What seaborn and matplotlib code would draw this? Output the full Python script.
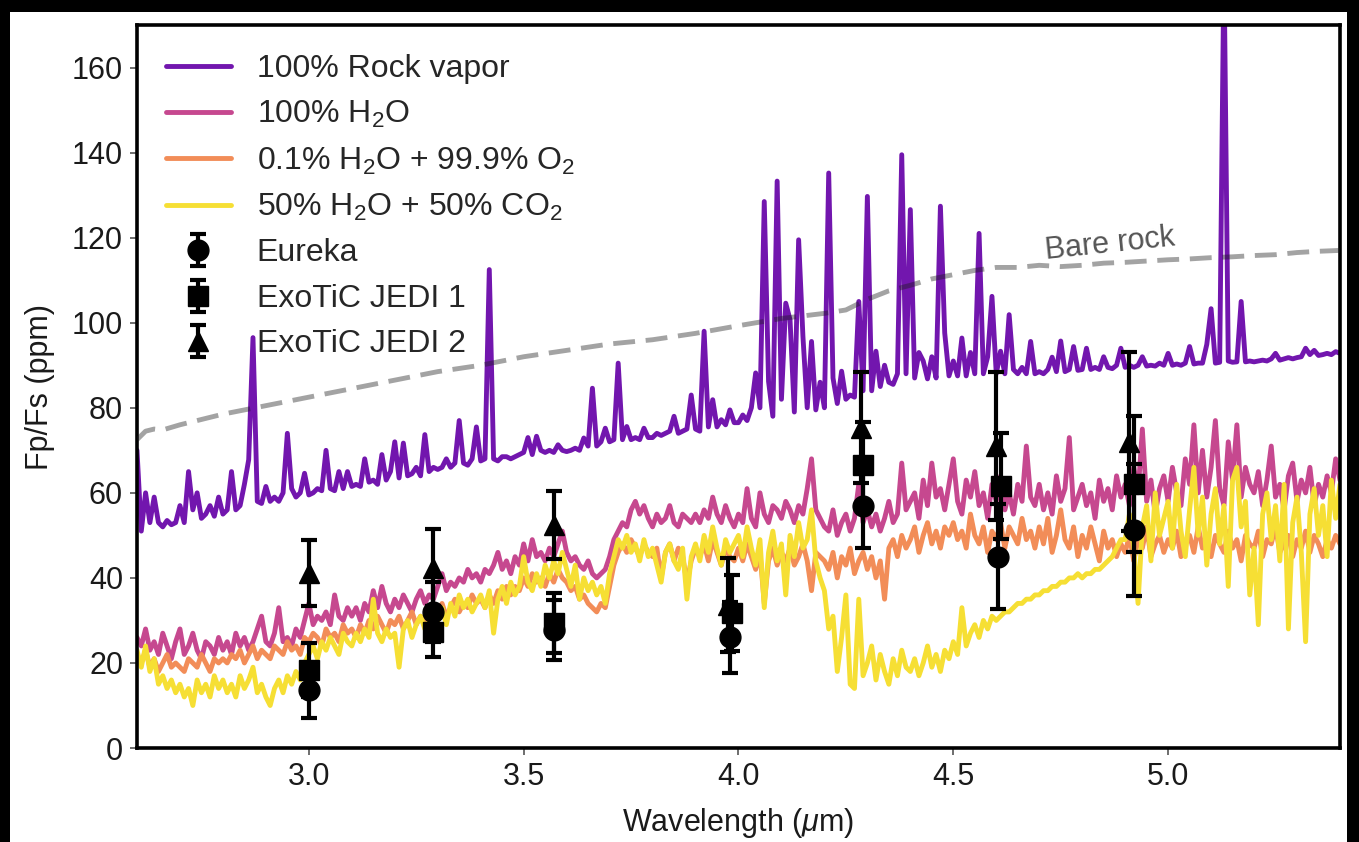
import matplotlib
matplotlib.use("Agg")
import matplotlib.pyplot as plt
from matplotlib.patches import Rectangle
import numpy as np
import pandas as pd
import seaborn as sns

# model wavelength grid (um), one value every 0.01 um from 2.60 to 5.40
wl = np.round(np.arange(260, 541) / 100, 2)

# model spectra, Fp/Fs in ppm
rock_vapor = [
    70, 51, 60, 53, 59, 53, 52, 53.5, 52.5, 53,
    57, 53, 65, 56, 60, 54, 55, 57, 54.5, 59,
    55, 56, 65, 56, 57, 62, 67.8, 96.5, 58, 57.5,
    61.5, 58, 59, 58, 60, 74, 61, 59, 60, 64.6,
    59.5, 60, 61, 60.5, 70, 61, 60.5, 65, 61, 65,
    61.5, 62, 61.5, 68, 62.5, 63, 62, 69, 63, 65,
    72, 63.5, 71.7, 64, 64.5, 66, 64, 73.7, 65, 66,
    65.5, 66, 68, 66, 67, 77, 67, 66.5, 68, 75.5,
    67.5, 68, 112.5, 68, 67.5, 68.5, 68.5, 68, 68.5, 69,
    69.5, 73, 69, 73.3, 70, 69.5, 70, 69.5, 71.3, 70,
    69.7, 70, 70.5, 70, 72.9, 71, 84.6, 71, 72, 75.2,
    72, 72.5, 90.5, 72.5, 75.6, 72.5, 73, 72.5, 75.2, 73,
    73, 74, 73.5, 74, 74.5, 78, 74, 74.5, 75, 83,
    75, 74.5, 98, 75.5, 81.9, 75.5, 77.2, 76, 79.5, 76.5,
    76.5, 78.3, 77, 80, 88.2, 80, 128.5, 86.2, 78, 133.3,
    82, 104.6, 100.7, 79, 119.5, 96.8, 80, 95.6, 79.5, 86,
    80, 135.2, 87, 81, 88.6, 82, 83, 82.5, 105, 84,
    129.7, 84, 93.3, 85, 90, 86, 85.5, 88, 139.5, 88,
    126.6, 87, 93, 91, 86.8, 92, 87, 127.4, 97.6, 87.5,
    91, 87.5, 96.4, 87.5, 93, 88, 121, 88, 92, 106.2,
    88, 93.3, 88, 101.9, 89, 88, 89.5, 88, 95.6, 88,
    88.5, 88, 89, 91.9, 88.5, 95.7, 88.5, 89, 94.4, 88.8,
    89, 94, 89, 89.5, 89, 92, 89.5, 89.2, 90, 94,
    89.5, 90, 89.5, 90, 92, 89.8, 90, 89.8, 90.5, 90,
    92.8, 90, 90.3, 90, 90.5, 94.4, 90.3, 90.5, 90.5, 94.9,
    103.3, 90.5, 90.7, 185, 91, 90.7, 90.8, 105, 90.8, 91,
    90.8, 91, 91.2, 91, 91.5, 92.8, 91.2, 91.5, 91.8, 91.5,
    91.8, 92, 94, 92.5, 93.5, 92.3, 92.5, 92.8, 92.5, 93.2,
    92.8,
]

h2o_100 = [
    26, 24, 28, 23, 25, 22, 27, 24, 21, 25,
    28, 22, 24, 27, 23, 21, 25, 24, 22, 26,
    23, 25, 22, 27, 24, 26, 23, 25, 28, 31,
    25, 24, 27, 33, 25, 26, 24, 28, 26, 30,
    34, 29, 31, 30, 32, 29, 36, 31, 30, 33,
    31, 33, 30, 34, 32, 37, 33, 38, 34, 32,
    35, 33, 36, 34, 32, 35, 37, 34, 36, 35,
    38, 41, 37, 39, 38, 40, 39, 42, 40, 41,
    39, 42, 41, 43, 46, 42, 44, 41, 45, 43,
    48, 44, 49, 45, 46, 44, 47, 45, 48, 51,
    46, 44, 45, 43, 42, 44, 41, 40, 41, 42,
    45, 49, 51, 53, 52, 56, 58, 55, 57, 54,
    52, 55, 53, 54, 57, 53, 52, 55, 54, 53,
    55, 53, 56, 54, 59, 55, 53, 57, 54, 52,
    55, 53, 61, 54, 52, 60, 55, 53, 57, 56,
    54, 58, 56, 53, 57, 55, 61, 68, 56, 54,
    52, 51, 56, 50, 53, 55, 51, 54, 62, 53,
    56, 52, 55, 51, 54, 58, 53, 55, 67, 56,
    58, 60, 54, 63, 57, 67, 59, 61, 56, 62,
    68, 58, 55, 63, 59, 65, 57, 60, 54, 62,
    58, 64, 56, 60, 55, 62, 58, 71, 59, 57,
    62, 56, 60, 55, 64, 58, 61, 73, 56, 59,
    62, 57, 60, 54, 63, 58, 61, 56, 64, 59,
    62, 57, 66, 60, 75, 58, 63, 55, 61, 64,
    58, 66, 60, 57, 68, 62, 76, 60, 70, 59,
    66, 77, 61, 57, 72, 63, 76, 59, 66, 62,
    60, 65, 57, 63, 71, 59, 62, 56, 64, 67,
    58, 63, 60, 66, 57, 62, 59, 64, 60, 68,
    63,
]

h2o_o2 = [
    22, 20, 23, 19, 21, 18, 20, 22, 19, 20,
    19, 18, 21, 20, 19, 22, 20, 18, 21, 20,
    21, 20, 22, 21, 23, 20, 22, 24, 21, 23,
    22, 21, 24, 23, 22, 25, 23, 24, 22, 26,
    25, 27, 26, 24, 28, 26, 27, 25, 29, 27,
    28, 26, 29, 27, 30, 28, 31, 29, 27, 30,
    29, 31, 28, 30, 32, 29, 31, 30, 33, 31,
    32, 34, 31, 33, 35, 32, 34, 33, 36, 34,
    35, 33, 36, 34, 37, 35, 38, 36, 38, 37,
    40, 38, 41, 39, 40, 38, 41, 39, 42, 40,
    39, 37, 38, 35, 36, 34, 33, 32, 34, 33,
    38, 43, 46, 48, 46, 49, 47, 45, 48, 46,
    45, 47, 40, 46, 48, 44, 47, 45, 39, 44,
    47, 45, 48, 44, 49, 46, 43, 47, 45, 44,
    47, 44, 48, 45, 42, 46, 34, 44, 47, 43,
    46, 44, 47, 43, 45, 48, 44, 37, 46, 45,
    44, 42, 46, 40, 45, 43, 47, 41, 44, 46,
    42, 45, 40, 44, 35, 47, 49, 45, 50, 47,
    49, 52, 46, 50, 53, 48, 51, 47, 52, 50,
    53, 49, 51, 47, 55, 50, 48, 52, 46, 51,
    49, 53, 47, 52, 50, 48, 54, 49, 51, 47,
    52, 48, 54, 46, 50, 56, 49, 47, 52, 45,
    50, 47, 52, 48, 44, 51, 47, 49, 45, 48,
    46, 50, 44, 49, 47, 52, 45, 48, 50, 46,
    49, 47, 51, 45, 48, 50, 46, 52, 47, 49,
    45, 50, 48, 46, 51, 47, 49, 44, 50, 48,
    47, 51, 45, 49, 48, 52, 46, 48, 50, 45,
    49, 47, 51, 46, 50, 48, 45, 49, 47, 50,
    48,
]

h2o_co2 = [
    23, 19, 24, 18, 21, 15, 17, 14, 16, 13,
    15, 12, 14, 10, 16, 13, 15, 12, 17, 14,
    16, 13, 15, 12, 17, 14, 16, 19, 13, 15,
    12, 10, 14, 16, 13, 17, 15, 18, 16, 20,
    22, 24, 21, 25, 23, 26, 24, 22, 27, 25,
    24, 27, 25, 28, 26, 35, 27, 25, 28, 26,
    27, 19, 28, 30, 26, 29, 31, 28, 30, 32,
    30, 33, 29, 34, 31, 36, 33, 35, 32, 34,
    36, 33, 37, 27, 35, 38, 34, 39, 36, 38,
    45, 39, 37, 41, 38, 43, 40, 44, 41, 46,
    42, 38, 43, 35, 40, 37, 39, 36, 38, 34,
    41, 45, 49, 47, 50, 46, 48, 44, 49, 45,
    47, 43, 39, 46, 48, 44, 42, 47, 35, 45,
    48, 44, 50, 46, 52, 47, 43, 49, 46, 48,
    50, 45, 52, 47, 43, 49, 33, 46, 51, 44,
    48, 36, 50, 45, 53, 47, 49, 56, 44, 40,
    37, 28, 31, 18, 26, 36, 15, 14, 35, 17,
    20, 24, 16, 22, 18, 15, 21, 17, 23, 19,
    18, 21, 17, 20, 24, 19, 22, 18, 23, 21,
    25, 22, 33, 24, 27, 29, 26, 30, 28, 31,
    30, 31, 32, 32, 33, 34, 34, 35, 35, 36,
    36, 37, 37, 38, 38, 39, 39, 40, 40, 41,
    40, 41, 41, 42, 42, 43, 44, 45, 47, 49,
    49, 55, 47, 34, 52, 57, 44, 60, 50, 54,
    58, 47, 62, 51, 45, 56, 66, 50, 59, 43,
    55, 61, 48, 57, 38, 63, 66, 52, 58, 36,
    47, 29, 55, 60, 49, 57, 44, 62, 28, 53,
    59, 46, 25, 55, 61, 50, 57, 45, 63, 54,
    62,
]

# bare rock (blackbody-like) curve
bare_wl = [2.60, 2.62, 2.64, 2.66, 2.70, 2.80, 2.90, 3.00, 3.10, 3.20, 3.30,
           3.40, 3.50, 3.60, 3.70, 3.80, 3.90, 4.00, 4.10, 4.20, 4.25, 4.30,
           4.35, 4.40, 4.45, 4.50, 4.55, 4.60, 4.65, 4.70, 4.75, 4.80, 4.85,
           4.90, 4.95, 5.00, 5.05, 5.10, 5.15, 5.20, 5.25, 5.30, 5.35, 5.40]
bare_rock = [72.5, 74.5, 75, 74.8, 76, 78.5, 80.5, 82.5, 84.5, 86.5, 88.5,
             90, 92, 93.5, 95, 96, 97.5, 99.3, 101, 102.2, 103, 105.5,
             107.5, 108.8, 110.3, 111.3, 112.3, 113, 113, 113.5, 113.2, 113.5, 114,
             114.2, 114.5, 114.8, 115, 115.3, 115.5, 115.8, 116, 116.5, 116.8, 117]

# observed eclipse depths (ppm) and 1-sigma errors
eureka_wl = [3.00, 3.29, 3.57, 3.98, 4.29, 4.605, 4.92]
eureka = [13.6, 32, 27.8, 26, 57, 45, 51.3]
eureka_err = [6.5, 7, 7, 8.3, 10, 12.3, 15.5]

jedi1_wl = [3.00, 3.29, 3.57, 3.985, 4.29, 4.61, 4.92]
jedi1 = [18.4, 27.3, 29.4, 31.8, 66.6, 61.6, 62]
jedi1_err = [6.3, 6, 7, 9, 10, 12.4, 16]

jedi2_wl = [3.00, 3.29, 3.57, 3.975, 4.285, 4.60, 4.91]
jedi2 = [41.1, 42.4, 52.5, 33.6, 75.3, 71, 72]
jedi2_err = [7.8, 9, 8, 11, 13, 17.5, 21]

models = pd.DataFrame({
    "wl": wl,
    "rock": rock_vapor,
    "h2o": h2o_100,
    "o2": h2o_o2,
    "co2": h2o_co2,
})
bare = pd.DataFrame({"wl": bare_wl, "fp": bare_rock})

sns.set_theme(style="ticks")
plt.rcParams["font.family"] = ["Liberation Sans", "DejaVu Sans"]
plt.rcParams["mathtext.fontset"] = "custom"
plt.rcParams["mathtext.rm"] = "Liberation Sans"
plt.rcParams["mathtext.it"] = "Liberation Sans:italic"
plt.rcParams["mathtext.bf"] = "Liberation Sans:bold"

FS = 22

fig = plt.figure(figsize=(13.59, 8.42), dpi=100)
fig.patch.set_facecolor("black")
fig.add_artist(Rectangle((10 / 1359, 0), 1337 / 1359, 830 / 842,
                         transform=fig.transFigure, facecolor="white",
                         edgecolor="none", zorder=-10))
ax = fig.add_axes([0.1008, 0.1116, 0.8852, 0.8587])
ax.set_facecolor("white")

series = [
    ("rock", "100% Rock vapor", "#7216ae"),
    ("h2o", "100% H$_2$O", "#c6488f"),
    ("o2", "0.1% H$_2$O + 99.9% O$_2$", "#f28d58"),
    ("co2", "50% H$_2$O + 50% CO$_2$", "#f6df34"),
]
for col, label, color in series:
    sns.lineplot(data=models, x="wl", y=col, color=color, lw=3.5,
                 label=label, estimator=None, ax=ax)

sns.lineplot(data=bare, x="wl", y="fp", color="k", alpha=0.4, lw=3.5,
             linestyle=(0, (4.5, 2.2)), estimator=None, ax=ax, zorder=3)
ax.text(4.865, 118.5, "Bare rock", rotation=6, color="#555555",
        fontsize=FS, ha="center", va="center")

eb_kw = dict(color="black", ms=15, elinewidth=3, capsize=5.5, capthick=3,
             ls="none", zorder=5)
ax.errorbar(eureka_wl, eureka, yerr=eureka_err, fmt="o", label="Eureka", **eb_kw)
ax.errorbar(jedi1_wl, jedi1, yerr=jedi1_err, fmt="s", label="ExoTiC JEDI 1", **eb_kw)
ax.errorbar(jedi2_wl, jedi2, yerr=jedi2_err, fmt="^", label="ExoTiC JEDI 2", **eb_kw)

ax.set_xlim(2.6, 5.4)
ax.set_ylim(0, 170)
ax.set_xticks([3.0, 3.5, 4.0, 4.5, 5.0])
ax.set_yticks(np.arange(0, 161, 20))
ax.set_xlabel(r"Wavelength ($\mu$m)", fontsize=FS, color="#1a1a1a", labelpad=10)
ax.set_ylabel("Fp/Fs (ppm)", fontsize=FS, color="#1a1a1a", labelpad=12)
ax.tick_params(labelsize=FS, length=5, width=1.2, direction="out",
               colors="#555555", labelcolor="#1a1a1a", pad=5)
for sp in ax.spines.values():
    sp.set_linewidth(2.6)
    sp.set_color("black")

ax.legend(loc="upper left", frameon=False, fontsize=23, handlelength=2.05,
          handletextpad=0.8, labelspacing=0.48, borderaxespad=0.5,
          borderpad=0.4)

fig.savefig("out.png", dpi=100, facecolor=fig.get_facecolor())
